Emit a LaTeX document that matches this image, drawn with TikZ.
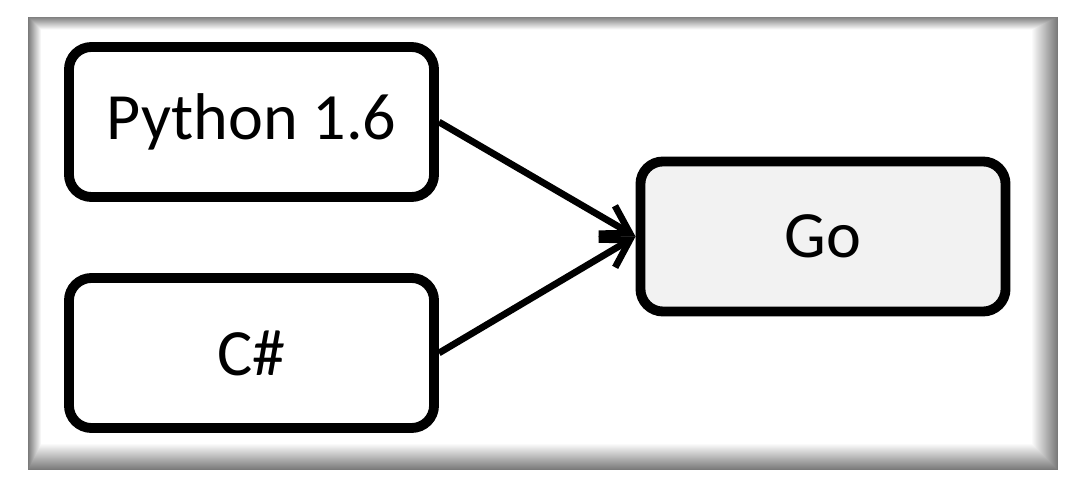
\documentclass[tikz,border=0pt]{standalone}
\usepackage{fontspec}
\setmainfont{Carlito}
\usetikzlibrary{arrows.meta, positioning}
\definecolor{golight}{RGB}{242,242,242}
\tikzset{
  box/.style   = {draw=black, line width=7pt, rounded corners=16pt, fill=white,
                  minimum width=9.125cm, minimum height=3.75cm, inner sep=0pt,
                  font=\fontsize{47}{56}\selectfont},
  gbox/.style  = {box, fill=golight},
  arrow/.style = {-{Straight Barb[length=19pt, width=23pt]},
                  line width=4.8pt, black},
}
\begin{document}
\begin{tikzpicture}[x=0.025cm, y=-0.025cm]
  \useasboundingbox (0,0) rectangle (1067,478);
  \fill[white] (0,0) rectangle (1067,478);
  % frame with inner shadow
  \foreach \i in {0,...,27} {
    \pgfmathsetmacro{\shade}{max(0,52-2*\i)}
    \fill[black!\shade] (28+0.5*\i,17+0.5*\i) rectangle (1058-\i,470-\i);
  }
  % boxes
  \node[box]  (py) at (251.5,122) {Python 1.6};
  \node[box]  (cs) at (251.5,353) {C\#};
  \node[gbox] (go) at (823,236.5) {Go};
  % arrows
  \draw[arrow] (py.east) -- (go.west);
  \draw[arrow] (cs.east) -- (go.west);
\end{tikzpicture}
\end{document}
